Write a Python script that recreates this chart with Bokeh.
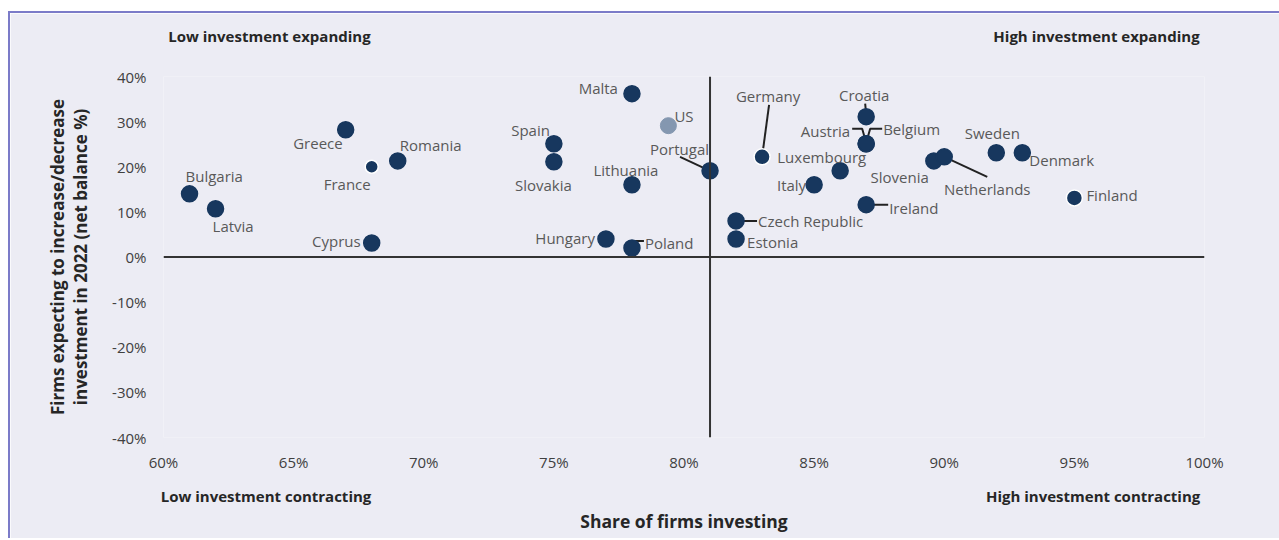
from bokeh.plotting import figure
from bokeh.models import ColumnDataSource, Range1d, Span, FixedTicker, LinearAxis
from bokeh.embed import file_html
from bokeh.resources import INLINE
from bokeh.core.properties import value

# ---------------- data ----------------
countries = ["Bulgaria", "Latvia", "Greece", "France", "Romania", "Cyprus", "Spain",
             "Slovakia", "Malta", "Lithuania", "Portugal", "Hungary", "Poland",
             "Germany", "Croatia", "Austria", "Belgium", "Luxembourg", "Italy",
             "Ireland", "Czech Republic", "Estonia", "Slovenia", "Netherlands",
             "Sweden", "Denmark", "Finland"]
share_investing = [61, 62, 67, 68, 69, 68, 75, 75, 78, 78, 81, 77, 78, 83, 87, 87, 87,
                   86, 85, 87, 82, 82, 89.6, 90, 92, 93, 95]
expect_net = [14, 10.7, 28.2, 20, 21.3, 3.1, 25.1, 21.1, 36.2, 16, 19.1, 4, 2, 22.2,
              31.1, 25.1, 25.1, 19.1, 16, 11.6, 8, 4, 21.3, 22.2, 23.1, 23.1, 13.1]
us_label = ["US"]
us_share = [79.4]
us_expect = [29.1]

x_ticks = [60, 65, 70, 75, 80, 85, 90, 95, 100]
x_tick_labels = ["60%", "65%", "70%", "75%", "80%", "85%", "90%", "95%", "100%"]
y_ticks = [-40, -30, -20, -10, 0, 10, 20, 30, 40]
y_tick_labels = ["-40%", "-30%", "-20%", "-10%", "0%", "10%", "20%", "30%", "40%"]
divider_x = 81

quadrant_top = ["Low investment expanding", "High investment expanding"]
quadrant_bottom = ["Low investment contracting", "High investment contracting"]
x_title = "Share of firms investing"
y_title = "Firms expecting to increase/decrease\ninvestment in 2022 (net balance %)"

# ---------------- styling ----------------
FONT = "Open Sans"
BG = "#ECECF4"
NAVY = "#17375E"
US_COL = "#8497B0"
LBL_COL = "#595959"
FRAME_COL = "#7B7BC8"

FW, FH = 1041, 361
XR, YR = (60, 100), (-40, 40)
SX = FW / (XR[1] - XR[0])
SY = FH / (YR[1] - YR[0])

# quadrant label centre positions (x data units)
quad_top_pos = [64.07, 95.85]
quad_bottom_pos = [63.94, 95.72]

# label placement: (dx px, dy px (down positive), align)
label_pos = {
    "Bulgaria": (-4, -18, "left"), "Latvia": (-3, 17, "left"), "Greece": (-3, 13, "right"),
    "France": (-1, 17, "right"), "Romania": (2, -16, "left"), "Cyprus": (-11, -2, "right"),
    "Spain": (-4, -14, "right"), "Slovakia": (18, 23, "right"), "Malta": (-14, -6, "right"),
    "Lithuania": (-6, -15, "center"), "Portugal": (-1, -22, "right"),
    "Hungary": (-11, -1, "right"), "Poland": (13, -5, "left"), "Germany": (6, -61, "center"),
    "Croatia": (-2, -22, "center"), "Austria": (-16, -13, "right"),
    "Belgium": (17, -15, "left"), "Luxembourg": (26, -14, "right"), "Italy": (-8, 0, "right"),
    "Ireland": (23, 3, "left"), "Czech Republic": (22, 0, "left"), "Estonia": (11, 3, "left"),
    "Slovenia": (-5, 16, "right"), "Netherlands": (43, 32, "center"),
    "Sweden": (-4, -20, "center"), "Denmark": (7, 7, "left"), "Finland": (12, -3, "left"),
}
leaders = {
    "Portugal": [(0, 0), (-30, -14)],
    "Poland": [(0, 0), (0, -7), (12, -7)],
    "Germany": [(0, 0), (7, -52)],
    "Croatia": [(0, -2), (-1, -13)],
    "Austria": [(-14, -15), (-4, -15), (0, -1), (4, -15), (16, -15)],
    "Ireland": [(0, 0), (22, 0)],
    "Czech Republic": [(0, 0), (21, 0)],
    "Netherlands": [(0, 0), (43, 20)],
}
outlined = {"France", "Germany", "Finland"}
small = {"France"}

p = figure(frame_width=FW, frame_height=FH, min_border_left=153, min_border_right=75,
           min_border_top=63, min_border_bottom=101, x_range=Range1d(*XR), y_range=Range1d(*YR),
           output_backend="svg", toolbar_location=None, background_fill_color=BG,
           border_fill_color=BG, outline_line_color=None)
p.styles = {"margin-left": "8px", "margin-top": "11px",
            "border-top": f"2px solid {FRAME_COL}", "border-left": f"2px solid {FRAME_COL}"}
p.grid.visible = False

def plain_axis(ax):
    ax.axis_line_color = None
    ax.major_tick_line_color = None
    ax.minor_tick_line_color = None
    ax.major_label_text_font = FONT
    ax.axis_label_text_font = FONT
    ax.axis_label_text_font_style = "bold"
    ax.axis_label_text_color = "#262626"

for ax in (p.xaxis[0], p.yaxis[0]):
    plain_axis(ax)
    ax.major_label_text_font_size = "15px"
    ax.major_label_text_color = "#404040"
p.xaxis.ticker = FixedTicker(ticks=x_ticks)
p.xaxis.major_label_overrides = dict(zip(x_ticks, x_tick_labels))
p.xaxis.major_label_standoff = 8
p.yaxis.ticker = FixedTicker(ticks=y_ticks)
p.yaxis.major_label_overrides = dict(zip(y_ticks, y_tick_labels))
p.yaxis.major_label_standoff = 11
p.yaxis.axis_label = y_title
p.yaxis.axis_label_text_font_size = "17px"
p.yaxis.axis_label_text_line_height = 1.0
p.yaxis.axis_label_standoff = 17

# quadrant captions as extra axes
top_ax = LinearAxis(ticker=FixedTicker(ticks=quad_top_pos),
                    major_label_overrides=dict(zip(quad_top_pos, quadrant_top)))
bot_ax = LinearAxis(ticker=FixedTicker(ticks=quad_bottom_pos),
                    major_label_overrides=dict(zip(quad_bottom_pos, quadrant_bottom)))
for ax, standoff in ((top_ax, 25), (bot_ax, 5)):
    plain_axis(ax)
    ax.major_label_standoff = standoff
    ax.major_label_text_font_size = "15px"
    ax.major_label_text_font_style = "bold"
    ax.major_label_text_color = "#262626"
bot_ax.axis_label = x_title
bot_ax.axis_label_text_font_size = "17.5px"
bot_ax.axis_label_standoff = 0
p.add_layout(top_ax, "above")
p.add_layout(bot_ax, "below")

p.add_layout(Span(location=0, dimension="width", line_color="#333333", line_width=2))
p.add_layout(Span(location=divider_x, dimension="height", line_color="#333333", line_width=2))

# leader lines
xs, ys = [], []
for c, path in leaders.items():
    i = countries.index(c)
    px, py = share_investing[i], expect_net[i]
    xs.append([px + dx / SX for dx, dy in path])
    ys.append([py - dy / SY for dx, dy in path])
p.multi_line(xs, ys, line_color="#222222", line_width=2)

src = ColumnDataSource(dict(
    x=share_investing, y=expect_net, name=countries,
    size=[13 if c in small else 16 for c in countries],
    lc=["white" if c in outlined else NAVY for c in countries],
))
p.scatter("x", "y", source=src, size="size", fill_color=NAVY, line_color="lc", line_width=1.5)
p.scatter(us_share, us_expect, size=16, fill_color=US_COL, line_color=US_COL)

# country labels
for align in ("left", "right", "center"):
    names = [c for c in countries if label_pos[c][2] == align]
    idx = [countries.index(c) for c in names]
    p.text(x=[share_investing[i] for i in idx], y=[expect_net[i] for i in idx], text=names,
           x_offset=[label_pos[c][0] for c in names], y_offset=[label_pos[c][1] for c in names],
           text_align=align, text_baseline="middle", text_font=value(FONT),
           text_font_size="15px", text_color=LBL_COL)
p.text(x=us_share, y=us_expect, text=us_label, x_offset=6, y_offset=-10, text_align="left",
       text_baseline="middle", text_font=value(FONT), text_font_size="15px", text_color=LBL_COL)

open("out.html", "w").write(file_html(p, INLINE))
